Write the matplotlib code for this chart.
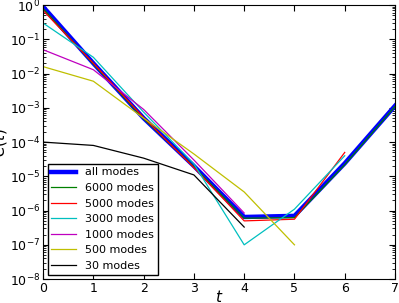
import matplotlib
matplotlib.use("Agg")
import matplotlib.pyplot as plt

t = [0, 1, 2, 3, 4, 5, 6, 7]

c_all = [0.9, 0.02, 5.0e-4, 2.0e-5, 6.5e-7, 7.0e-7, 2.4e-5, 1.15e-3]
c_6000 = [0.8, 0.019, 4.8e-4, 1.9e-5, 6.0e-7, 6.2e-7, 2.2e-5, 1.1e-3]
c_5000 = [0.7, 0.02, 5.2e-4, 1.8e-5, 5.0e-7, 5.6e-7, 5.0e-5]
c_3000 = [0.3, 0.03, 7.5e-4, 2.3e-5, 1.0e-7, 1.1e-6, 4.0e-5]
c_1000 = [0.05, 0.013, 9.0e-4, 3.0e-5, 8.5e-7]
c_500 = [0.016, 0.006, 5.0e-4, 4.5e-5, 3.5e-6, 1.0e-7]
c_30 = [1.0e-4, 8.0e-5, 3.4e-5, 1.1e-5, 3.3e-7]

plt.rcParams['xtick.direction'] = 'in'
plt.rcParams['ytick.direction'] = 'in'
plt.rcParams['xtick.top'] = True
plt.rcParams['ytick.right'] = True
plt.rcParams['font.size'] = 9

fig = plt.figure(figsize=(3.99, 3.03), dpi=100)
ax = fig.add_axes([0.108, 0.079, 0.882, 0.904])

ax.semilogy(t, c_all, color='b', lw=3.2, label='all modes')
ax.semilogy(t, c_6000, color='g', lw=0.9, label='6000 modes')
ax.semilogy(t[:len(c_5000)], c_5000, color='r', lw=0.9, label='5000 modes')
ax.semilogy(t[:len(c_3000)], c_3000, color='c', lw=0.9, label='3000 modes')
ax.semilogy(t[:len(c_1000)], c_1000, color='m', lw=0.9, label='1000 modes')
ax.semilogy(t[:len(c_500)], c_500, color='y', lw=0.9, label='500 modes')
ax.semilogy(t[:len(c_30)], c_30, color='k', lw=0.9, label='30 modes')

ax.set_xlim(0, 7)
ax.set_ylim(1e-8, 1)
ax.set_xlabel('$t$', fontsize=11, labelpad=-4)
ax.set_ylabel('$C(t)$', fontsize=11, labelpad=1)
ax.tick_params(which='major', length=4, labelsize=9, pad=2)
ax.tick_params(which='minor', length=2)

leg = ax.legend(loc=3, fontsize=8, fancybox=False, framealpha=1, borderaxespad=0.4,
                labelspacing=0.5, handlelength=2.2, borderpad=0.35)
leg.get_frame().set_edgecolor('k')

fig.savefig('out.png', dpi=100)
